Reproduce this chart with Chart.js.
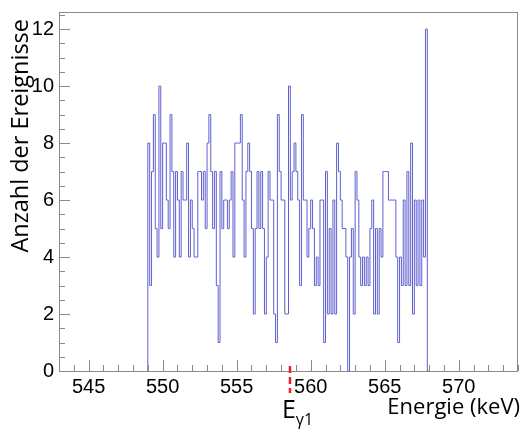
<!DOCTYPE html>
<html>
<head>
<meta charset="utf-8">
<script src="https://cdn.jsdelivr.net/npm/chart.js@4.4.1/dist/chart.umd.min.js"></script>
<style>
html,body{margin:0;padding:0;background:#fff;}
#wrap{width:523px;height:432px;position:relative;}
canvas{display:block;}
</style>
</head>
<body>
<div id="wrap"><canvas id="c" width="523" height="432"></canvas></div>
<script>
// ---- data ----
const binStart = 549.0;      // keV, left edge of first bin
const binWidth = 0.125;      // keV
const counts = [
  // 549.0 - 552.0
  4, 8, 3, 7, 9, 5, 4, 10, 5, 8, 8, 6, 5, 9, 7, 4, 7, 6, 4, 7, 6, 6, 8, 4,
  // 552.0 - 555.25
  6, 5, 4, 4, 7, 7, 6, 7, 5, 8, 9, 7, 5, 7, 3, 1, 7, 5, 6, 6, 5, 6, 7, 4, 8, 8,
  // 555.25 - 558.5
  8, 9, 6, 4, 7, 8, 7, 5, 2, 5, 7, 5, 7, 5, 2, 4, 7, 6, 6, 2, 1, 9, 7, 6, 6, 2,
  // 558.5 - 561.75
  2, 10, 6, 7, 8, 7, 6, 3, 9, 6, 6, 4, 5, 6, 5, 3, 4, 3, 6, 6, 1, 7, 2, 5, 2, 6,
  // 561.75 - 565.0
  2, 8, 7, 6, 5, 5, 4, 0, 4, 5, 2, 7, 6, 4, 3, 4, 3, 4, 3, 5, 6, 2, 5, 2, 5, 4,
  // 565.0 - 568.0
  7, 7, 7, 6, 6, 6, 6, 4, 1, 4, 3, 6, 3, 7, 3, 8, 2, 6, 3, 6, 3, 6, 4, 12
];
const xTickLabels = [545, 550, 555, 560, 565, 570];
const yTickLabels = [0, 2, 4, 6, 8, 10, 12];
const xRange = [543, 574];
const yRange = [0, 12.6];
const eGamma1 = 558.6;       // keV, marked line energy
const xTitle = 'Energie (keV)';
const yTitle = 'Anzahl der Ereignisse';

// histogram outline points (bin edges)
const pts = [{x: binStart, y: 0}];
counts.forEach((v, i) => pts.push({x: binStart + i * binWidth, y: v}));
pts.push({x: binStart + counts.length * binWidth, y: 0});

const axisColor = '#8a8a8a';
const tickFont = {family: 'Liberation Sans', size: 20};

const decor = {
  id: 'decor',
  afterDatasetsDraw(chart) {
    const ctx = chart.ctx;
    const xs = chart.scales.x, ys = chart.scales.y;
    const a = chart.chartArea;
    ctx.save();
    ctx.strokeStyle = axisColor;
    ctx.lineWidth = 1;
    ctx.strokeRect(a.left + 0.5, a.top + 0.5, a.right - a.left - 1, a.bottom - a.top);
    ctx.beginPath();
    for (let v = Math.ceil(xRange[0]); v <= xRange[1]; v++) {
      const px = Math.round(xs.getPixelForValue(v)) + 0.5;
      const len = (v % 5 === 0) ? 11 : 6;
      ctx.moveTo(px, a.bottom);
      ctx.lineTo(px, a.bottom - len);
    }
    for (let v = 0; v <= yRange[1] + 1e-9; v += 0.5) {
      const py = Math.round(ys.getPixelForValue(v)) + 0.5;
      const len = (Math.abs(v % 2) < 1e-9) ? 11 : 6;
      ctx.moveTo(a.left, py);
      ctx.lineTo(a.left + len, py);
    }
    ctx.stroke();
    ctx.restore();
  },
  afterDraw(chart) {
    const ctx = chart.ctx;
    const xs = chart.scales.x;
    const a = chart.chartArea;
    ctx.save();
    const mx = xs.getPixelForValue(eGamma1);
    ctx.strokeStyle = '#e8202a';
    ctx.lineWidth = 2.5;
    ctx.setLineDash([7, 4]);
    ctx.beginPath();
    ctx.moveTo(mx, a.bottom - 5);
    ctx.lineTo(mx, a.bottom + 22);
    ctx.stroke();
    ctx.setLineDash([]);
    ctx.fillStyle = '#000';
    ctx.textBaseline = 'alphabetic';
    ctx.textAlign = 'left';
    ctx.font = '25px "Open Sans"';
    const ex = mx - 8;
    ctx.fillText('E', ex, 418);
    const ew = ctx.measureText('E').width;
    ctx.font = '16px "Open Sans"';
    ctx.fillText('γ1', ex + ew, 425);
    ctx.font = '22px "Open Sans"';
    ctx.textAlign = 'right';
    ctx.fillText(xTitle, 520, 414);
    ctx.font = '23.5px "Open Sans"';
    ctx.translate(21, 19);
    ctx.rotate(-Math.PI / 2);
    ctx.textAlign = 'right';
    ctx.textBaseline = 'middle';
    ctx.fillText(yTitle, 0, 0);
    ctx.restore();
  }
};

new Chart(document.getElementById('c'), {
  type: 'line',
  data: {
    datasets: [{
      data: pts,
      stepped: 'after',
      borderColor: 'rgb(95,95,210)',
      borderWidth: 1,
      pointRadius: 0,
      fill: false,
      tension: 0
    }]
  },
  options: {
    responsive: false,
    animation: false,
    devicePixelRatio: 1,
    layout: {padding: {top: 12, right: 5, left: 0, bottom: 0}},
    plugins: {legend: {display: false}, tooltip: {enabled: false}},
    scales: {
      x: {
        type: 'linear',
        min: xRange[0], max: xRange[1],
        border: {display: false},
        grid: {display: false, drawTicks: false},
        afterBuildTicks: s => { s.ticks = xTickLabels.map(v => ({value: v})); },
        afterFit: s => { s.height = 61; s.paddingLeft = 0; s.paddingRight = 0; },
        ticks: {color: '#000', font: tickFont, padding: 4, maxRotation: 0, autoSkip: false,
                callback: v => String(v)}
      },
      y: {
        type: 'linear',
        min: yRange[0], max: yRange[1],
        border: {display: false},
        grid: {display: false, drawTicks: false},
        afterBuildTicks: s => { s.ticks = yTickLabels.map(v => ({value: v})); },
        afterFit: s => { s.width = 59; s.paddingTop = 0; s.paddingBottom = 0; },
        ticks: {color: '#000', font: tickFont, padding: 5, autoSkip: false,
                callback: v => String(v)}
      }
    }
  },
  plugins: [decor]
});
</script>
</body>
</html>
